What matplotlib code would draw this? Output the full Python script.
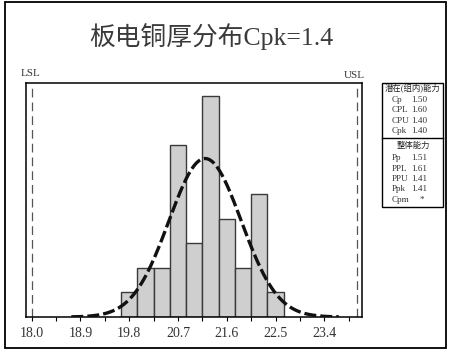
import numpy as np
import matplotlib.pyplot as plt
from matplotlib.patches import Rectangle

plt.rcParams['font.family'] = ['Liberation Serif', 'Noto Sans CJK SC', 'DejaVu Sans']

# histogram data (bin centres, counts)
bin_centers = [19.8, 20.1, 20.4, 20.7, 21.0, 21.3, 21.6, 21.9, 22.2, 22.5]
counts = [1, 2, 2, 7, 3, 9, 4, 2, 5, 1]
bin_width = 0.3

LSL = 18.0
USL = 24.0
mean = 21.2
sigma = 0.667
n_total = sum(counts)

tick_vals = [18.0, 18.9, 19.8, 20.7, 21.6, 22.5, 23.4]

title = "板电铜厚分布Cpk=1.4"
within_names = ["Cp", "CPL", "CPU", "Cpk"]
within_vals = ["1.50", "1.60", "1.40", "1.40"]
overall_names = ["Pp", "PPL", "PPU", "Ppk", "Cpm"]
overall_vals = ["1.51", "1.61", "1.41", "1.41", "*"]

W, H = 450, 354
fig = plt.figure(figsize=(W / 100, H / 100), dpi=100)

def fx(x):
    return x / W

def fy(y):
    return (H - y) / H

ax = fig.add_axes([fx(25.7), fy(317), fx(361.7) - fx(25.7), fy(82.7) - fy(317)])

ax.bar(bin_centers, counts, width=bin_width, color='#cfcfcf', edgecolor='#3a3a3a', lw=1.0, zorder=2)

# fitted normal curve
xs = np.linspace(mean - 3.7 * sigma, mean + 3.7 * sigma, 200)
ys = n_total * bin_width / (sigma * np.sqrt(2 * np.pi)) * np.exp(-0.5 * ((xs - mean) / sigma) ** 2)
ax.plot(xs, ys, color='#111111', lw=2.4, ls=(0, (3.6, 1.2)), zorder=3)

for v in [LSL, USL]:
    ax.axvline(v, color='#555555', lw=0.9, ls=(0, (7, 4)), zorder=1)

ax.set_xlim(17.89, 24.09)
ax.set_ylim(0, 9.55)
ax.set_yticks([])

minor = np.arange(18.0, 23.9, 0.45)
ax.set_xticks(minor)
labels = []
for m in minor:
    if any(abs(m - t) < 1e-6 for t in tick_vals):
        labels.append("%.1f" % m)
    else:
        labels.append("")
ax.set_xticklabels(labels, fontsize=10, color='#333333')
ax.tick_params(axis='x', direction='out', length=3, width=0.8, pad=4)
for s in ax.spines.values():
    s.set_linewidth(1.1)
    s.set_color('black')

fig.text(fx(211), fy(37), title, ha='center', va='center', fontsize=18.5, color='#3a3a3a')
fig.text(fx(31), fy(74), "LSL", ha='center', va='center', fontsize=8, color='#333333')
fig.text(fx(354), fy(75), "USL", ha='center', va='center', fontsize=8, color='#333333')

# outer frame
fig.patches.append(Rectangle((fx(5), fy(348)), fx(446) - fx(5), fy(2) - fy(348),
                             transform=fig.transFigure, fill=False, ec='black', lw=1.3))

# stats box
fig.patches.append(Rectangle((fx(382), fy(207)), fx(443) - fx(382), fy(83) - fy(207),
                             transform=fig.transFigure, fill=False, ec='black', lw=1.0))
fig.add_artist(plt.Line2D([fx(382), fx(443)], [fy(138), fy(138)], transform=fig.transFigure, color='black', lw=1.0))

fs = 6.6
fig.text(fx(412.5), fy(89), "潜在(组内)能力", ha='center', va='center', fontsize=6.0, color='#222222')
for i, (nm, vl) in enumerate(zip(within_names, within_vals)):
    y = 99.5 + i * 10.5
    fig.text(fx(392), fy(y), nm, ha='left', va='center', fontsize=fs, color='#333333')
    fig.text(fx(411.5), fy(y), vl, ha='left', va='center', fontsize=fs, color='#333333')
fig.text(fx(413), fy(146), "整体能力", ha='center', va='center', fontsize=6.0, color='#222222')
for i, (nm, vl) in enumerate(zip(overall_names, overall_vals)):
    y = 158.5 + i * 10.3
    fig.text(fx(392), fy(y), nm, ha='left', va='center', fontsize=fs, color='#333333')
    if vl == "*":
        fig.text(fx(422), fy(y), vl, ha='center', va='center', fontsize=fs, color='#333333')
    else:
        fig.text(fx(411.5), fy(y), vl, ha='left', va='center', fontsize=fs, color='#333333')

plt.savefig("out.png", dpi=100)
